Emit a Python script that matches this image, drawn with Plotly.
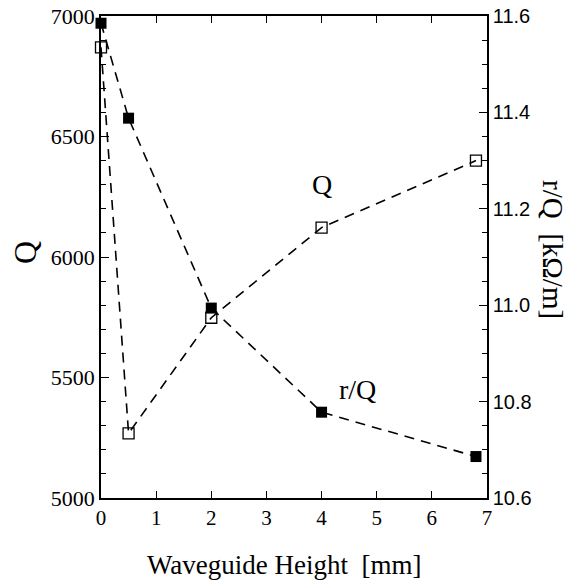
import plotly.graph_objects as go

height_mm = [0, 0.5, 2, 4, 6.8]
q_values = [6870, 5268, 5748, 6122, 6400]
rq_values = [11.585, 11.388, 10.994, 10.778, 10.686]

serif = "Liberation Serif"
sans = "Liberation Sans"

L, R, T, B = 101, 487, 16, 498
PW, PH = R - L, B - T

fig = go.Figure()
fig.add_trace(go.Scatter(
    x=height_mm, y=q_values, mode="lines+markers", name="Q",
    line=dict(color="black", width=1.6, dash="10px,7px"),
    marker=dict(symbol="square-open", size=11, color="black", line=dict(width=1.3, color="black")),
    yaxis="y", cliponaxis=False,
))
fig.add_trace(go.Scatter(
    x=height_mm, y=rq_values, mode="lines+markers", name="r/Q",
    line=dict(color="black", width=1.6, dash="10px,7px"),
    marker=dict(symbol="square", size=11, color="black"),
    yaxis="y2", cliponaxis=False,
))

fig.update_layout(
    width=576, height=586,
    margin=dict(l=L, r=576 - R, t=T, b=586 - B, autoexpand=False),
    paper_bgcolor="white", plot_bgcolor="white",
    showlegend=False,
    xaxis=dict(
        range=[0, 7], tickvals=[0, 1, 2, 3, 4, 5, 6, 7], automargin=False,
        ticks="inside", ticklen=7, tickwidth=1.3, tickcolor="black",
        showline=True, linecolor="black", linewidth=1.5, mirror="ticks",
        showgrid=False, zeroline=False,
        tickfont=dict(family=serif, size=21, color="black"),
    ),
    yaxis=dict(
        range=[5000, 7000], tickvals=[5000, 5500, 6000, 6500, 7000], automargin=False,
        ticks="inside", ticklen=8, tickwidth=1.3, tickcolor="black",
        minor=dict(dtick=100, ticks="inside", ticklen=5, tickcolor="black", tickwidth=1.2),
        showline=True, linecolor="black", linewidth=1.5,
        showgrid=False, zeroline=False,
        tickfont=dict(family=serif, size=22, color="black"),
    ),
    yaxis2=dict(
        range=[10.6, 11.6], tickvals=[10.6, 10.8, 11.0, 11.2, 11.4, 11.6],
        ticktext=["10.6", "10.8", "11.0", "11.2", "11.4", "11.6"], automargin=False,
        overlaying="y", side="right",
        ticks="inside", ticklen=8, tickwidth=1.3, tickcolor="black",
        minor=dict(dtick=0.05, ticks="inside", ticklen=5, tickcolor="black", tickwidth=1.2),
        showline=True, linecolor="black", linewidth=1.5,
        showgrid=False, zeroline=False,
        tickfont=dict(family=sans, size=20, color="black"),
    ),
    annotations=[
        dict(text="Q", xref="paper", yref="paper", x=(25 - L) / PW, y=1 - (253 - T) / PH,
             xanchor="center", yanchor="middle", showarrow=False,
             textangle=-90, font=dict(family=serif, size=32, color="black")),
        dict(text="r/Q\u00a0\u00a0[kΩ/m]", xref="paper", yref="paper", x=(553 - L) / PW, y=1 - (249 - T) / PH,
             xanchor="center", yanchor="middle", showarrow=False,
             textangle=90, font=dict(family=serif, size=29, color="black")),
        dict(text="Waveguide Height\u00a0\u00a0[mm]", xref="paper", yref="paper", x=(284 - L) / PW,
             y=-(565 - B) / PH, xanchor="center", yanchor="middle", showarrow=False,
             font=dict(family=serif, size=27, color="black")),
        dict(text="Q", x=4.01, y=6300, xref="x", yref="y", showarrow=False,
             font=dict(family=serif, size=28, color="black")),
        dict(text="r/Q", x=4.65, y=5450, xref="x", yref="y", showarrow=False,
             font=dict(family=serif, size=28, color="black")),
    ],
)

fig.write_html("out.html", config={"displayModeBar": False},
               post_script="document.body.style.margin='0';document.body.style.overflow='hidden';")
